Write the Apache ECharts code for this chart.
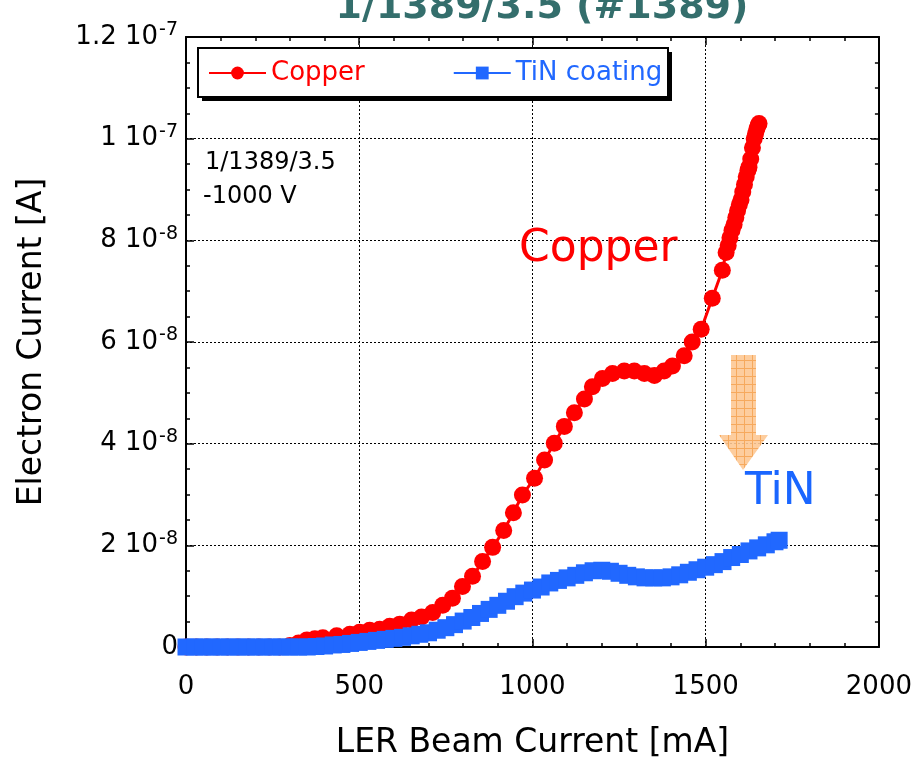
<!DOCTYPE html>
<html>
<head>
<meta charset="utf-8">
<script src="https://cdn.jsdelivr.net/npm/echarts@6/dist/echarts.min.js"></script>
<style>
html,body{margin:0;padding:0;background:#fff;}
#chart{width:915px;height:765px;}
</style>
</head>
<body>
<div id="chart"></div>
<script>
// ---- data (x: LER beam current in mA, y: electron current in units of 1e-8 A) ----
var copperX = [0,30,60,90,120,150,180,210,240,270,300,325,349,372,395,435,473,501,530,559,588,617,651,680,712,741,769,798,827,856,885,917,945,971,1006,1035,1063,1092,1121,1150,1173,1202,1231,1265,1294,1323,1352,1380,1404,1438,1461,1487,1519,1548,1559,1565,1570,1576,1582,1587,1592,1597,1602,1607,1612,1617,1622,1625,1630,1635,1640,1644,1648,1652,1654];
var copperY = [0,0,0,0,0,0,0,0,0,0,0.03,0.08,0.14,0.16,0.18,0.22,0.25,0.29,0.33,0.35,0.41,0.45,0.53,0.59,0.68,0.82,0.96,1.19,1.39,1.68,1.96,2.29,2.64,2.99,3.32,3.68,4.01,4.34,4.61,4.88,5.12,5.28,5.38,5.43,5.43,5.38,5.34,5.43,5.53,5.73,6.00,6.25,6.86,7.41,7.76,7.90,8.05,8.20,8.31,8.45,8.58,8.70,8.80,8.95,9.10,9.25,9.38,9.44,9.60,9.82,10.0,10.1,10.2,10.27,10.3];

var tinX = [0,25,50,75,100,125,150,175,200,225,250,275,300,325,350,375,400,425,450,475,500,525,550,575,600,625,650,675,700,725,750,775,800,825,850,875,900,925,950,975,1000,1025,1050,1075,1100,1125,1150,1175,1200,1225,1250,1275,1300,1325,1350,1375,1400,1425,1450,1475,1500,1525,1550,1575,1600,1625,1650,1675,1700,1712];
var tinY = [0,0,0,0,0,0,0,0,0,0,0,0,0,0,0,0.01,0.02,0.04,0.05,0.07,0.09,0.11,0.13,0.15,0.17,0.19,0.22,0.25,0.28,0.33,0.38,0.44,0.51,0.58,0.66,0.74,0.82,0.90,0.99,1.06,1.12,1.18,1.26,1.31,1.36,1.41,1.46,1.50,1.51,1.49,1.45,1.41,1.38,1.36,1.36,1.36,1.38,1.42,1.47,1.52,1.57,1.62,1.68,1.76,1.82,1.89,1.95,2.01,2.07,2.10];

var seriesNames = ['Copper', 'TiN coating'];
var xTicks = [0, 500, 1000, 1500, 2000];
// y tick labels: mantissa + power of ten (value in 1e-8 A -> label)
var yTickValues = [0, 2, 4, 6, 8, 10, 12];
var yTickMantissa = ['0', '2', '4', '6', '8', '1', '1.2'];
var yTickExp = ['', '-8', '-8', '-8', '-8', '-7', '-7'];

var titleText = '1/1389/3.5 (#1389)';
var xName = 'LER Beam Current [mA]';
var yName = 'Electron Current [A]';
var noteLines = ['1/1389/3.5', '-1000 V'];

function pairs(xs, ys){ return xs.map(function(x,i){ return [x, ys[i]]; }); }

var FONT = '"DejaVu Sans", "Liberation Sans", Arial, sans-serif';
var RED = '#ff0000', BLUE = '#2168ff';

var chart = echarts.init(document.getElementById('chart'), null, {renderer:'canvas'});

// arrow hatched pattern
var pc = document.createElement('canvas');
pc.width = 8; pc.height = 8;
var g = pc.getContext('2d');
g.fillStyle = '#fdc894'; g.fillRect(0,0,8,8);
g.strokeStyle = '#f6a04c'; g.lineWidth = 1;
g.beginPath(); g.moveTo(0,0.5); g.lineTo(8,0.5); g.moveTo(0.5,0); g.lineTo(0.5,8); g.stroke();

function yLabel(v){
  var i = yTickValues.indexOf(Math.round(v));
  if (i < 0) return '';
  if (!yTickExp[i]) return '{m|' + yTickMantissa[i] + '}';
  return '{m|' + yTickMantissa[i] + ' 10}{e|' + yTickExp[i] + '}';
}

var axisCommonX = {
  type: 'value', min: 0, max: 2000, interval: 500,
  axisLine: {show: true, onZero: false, lineStyle: {color: '#000', width: 2}},
  axisTick: {show: true, inside: true, length: 8, lineStyle: {color: '#000', width: 1.5}},
  minorTick: {show: true, splitNumber: 5, length: 4, lineStyle: {color: '#000', width: 1.5}}
};
var axisCommonY = {
  type: 'value', min: 0, max: 12, interval: 2,
  axisLine: {show: true, onZero: false, lineStyle: {color: '#000', width: 2}},
  axisTick: {show: true, inside: true, length: 8, lineStyle: {color: '#000', width: 1.5}},
  minorTick: {show: true, splitNumber: 4, length: 4, lineStyle: {color: '#000', width: 1.5}}
};

var option = {
  animation: false,
  backgroundColor: '#fff',
  title: {
    text: titleText, left: 537, textAlign: 'center', top: -16,
    textStyle: {fontFamily: FONT, fontWeight: 'bold', fontSize: 38, color: '#346e6c'}
  },
  legend: {
    left: 198, top: 48, orient: 'horizontal', z: 20,
    data: [
      {name: seriesNames[0], textStyle: {color: RED}},
      {name: seriesNames[1], textStyle: {color: BLUE}}
    ],
    itemWidth: 57, itemHeight: 16, itemGap: 88,
    padding: [12, 8, 12, 10],
    textStyle: {fontFamily: FONT, fontSize: 26}
  },
  grid: {left: 186, right: 35, top: 37, bottom: 115, containLabel: false},
  xAxis: [
    Object.assign({}, axisCommonX, {
      position: 'bottom',
      name: xName, nameLocation: 'middle', nameGap: 80,
      nameTextStyle: {fontFamily: FONT, fontSize: 33, color: '#000'},
      axisLabel: {margin: 27, fontFamily: FONT, fontSize: 26, color: '#000',
        formatter: function(v){ return xTicks.indexOf(v) >= 0 ? String(v) : ''; }},
      splitLine: {show: true, lineStyle: {color: '#000', width: 1, type: [2, 2]}}
    }),
    Object.assign({}, axisCommonX, {
      position: 'top', axisLabel: {show: false}, splitLine: {show: false}
    })
  ],
  yAxis: [
    Object.assign({}, axisCommonY, {
      position: 'left',
      name: yName, nameLocation: 'middle', nameGap: 137, nameRotate: 90,
      nameTextStyle: {fontFamily: FONT, fontSize: 33, color: '#000'},
      axisLabel: {margin: 8, formatter: yLabel, color: '#000',
        rich: {
          m: {fontFamily: FONT, fontSize: 26, color: '#000', lineHeight: 32},
          e: {fontFamily: FONT, fontSize: 19, color: '#000', verticalAlign: 'top', lineHeight: 16, padding: [0,0,0,1]}
        }},
      splitLine: {show: true, lineStyle: {color: '#000', width: 1, type: [2, 2]}}
    }),
    Object.assign({}, axisCommonY, {
      position: 'right', axisLabel: {show: false}, splitLine: {show: false}
    })
  ],
  series: [
    {
      name: seriesNames[0], type: 'line', xAxisIndex: 0, yAxisIndex: 0,
      data: pairs(copperX, copperY),
      symbol: 'circle', symbolSize: 17, showAllSymbol: true,
      lineStyle: {color: RED, width: 3}, itemStyle: {color: RED},
      z: 3
    },
    {
      name: seriesNames[1], type: 'line', xAxisIndex: 0, yAxisIndex: 0,
      data: pairs(tinX, tinY),
      symbol: 'rect', symbolSize: 17, showAllSymbol: true,
      lineStyle: {color: BLUE, width: 3}, itemStyle: {color: BLUE},
      z: 4
    }
  ],
  graphic: [
    // legend frame with drop shadow
    {type: 'rect', z: 15, shape: {x: 202, y: 52, width: 470, height: 49}, style: {fill: '#000'}},
    {type: 'rect', z: 16, shape: {x: 198, y: 48, width: 470, height: 49}, style: {fill: '#fff', stroke: '#000', lineWidth: 2}},
    {type: 'text', left: 205, top: 151, z: 10,
     style: {text: noteLines[0], font: '24px ' + FONT, fill: '#000'}},
    {type: 'text', left: 203, top: 185, z: 10,
     style: {text: noteLines[1], font: '24px ' + FONT, fill: '#000'}},
    {type: 'text', left: 519, top: 228, z: 10,
     style: {text: seriesNames[0], font: '44px ' + FONT, fill: RED}},
    {type: 'text', left: 745, top: 471, z: 10,
     style: {text: 'TiN', font: '44px ' + FONT, fill: '#1a66ff'}},
    {type: 'polygon', z: 10,
     shape: {points: [[731,355],[756,355],[756,435],[768,435],[743,470],[719,435],[731,435]]},
     style: {fill: {image: pc, repeat: 'repeat'}, opacity: 0.9}}
  ]
};
chart.setOption(option);
</script>
</body>
</html>
